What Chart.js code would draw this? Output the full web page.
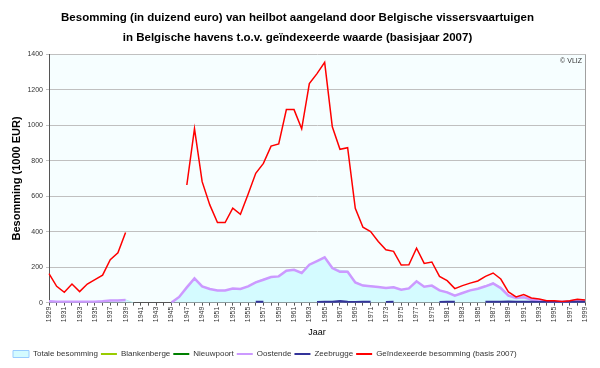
<!DOCTYPE html>
<html>
<head>
<meta charset="utf-8">
<title>Besomming heilbot</title>
<script src="https://cdn.jsdelivr.net/npm/chart.js@4.4.1/dist/chart.umd.min.js"></script>
<style>
  html, body { margin: 0; padding: 0; background: #fff; }
  #wrap { width: 600px; height: 368px; }
</style>
</head>
<body>
<div id="wrap"><canvas id="chart" width="600" height="368"></canvas></div>
<script>
'use strict';

// ─── Data ─────────────────────────────────────────────────────────────────────
const years = Array.from({ length: 71 }, (_, i) => String(1929 + i));

// Totale besomming (1000 EUR)
const totaal = [
  9, 6, 6, 6, 6, 6, 6, 9, 13, 13, 16,
  0, null, null, null, null,
  0, 32, 86, 137, 92, 77, 69, 69, 80, 77, 92, 117, 132, 144, 148,
  180, 185, 167, 214, 236, 258, 198, 182, 178, 116, 99, 95, 88, 82, 90,
  73, 80, 120, 90, 96, 71, 61, 42, 54, 69, 78, 95, 112, 86, 44,
  30, 33, 20, 13, 10, 7, 7, 10, 17, 14
];

const blankenberge = years.map(() => null);
const nieuwpoort = years.map(() => null);

const oostende = [
  8, 5, 5, 5, 5, 5, 5, 8, 12, 12, 15,
  null, null, null, null, null,
  0, 32, 86, 137, 92, 77, 69, 69, 80, 77, 92, 114, 129, 144, 148,
  180, 185, 167, 214, 234, 255, 195, 174, 174, 114, 96, 92, 88, 82, 87,
  73, 80, 120, 90, 96, 69, 58, 39, 54, 69, 78, 92, 108, 82, 39,
  26, 30, 17, 11, 7, 5, 5, 7, 13, 11
];

const zeebrugge = [
  null, null, null, null, null, null, null, null, null, null, null,
  null, null, null, null, null,
  null, null, null, null, null, null, null, null, null, null, null, 3, 3, null, null,
  null, null, null, null, 2, 3, 3, 8, 4, 2, 3, 3, null, 2, 3,
  null, null, null, null, null, 2, 3, 3, null, null, null, 3, 4, 4, 5,
  4, 3, 3, 2, 3, 2, 2, 3, 4, 3
];

// Geïndexeerde besomming (basis 2007)
const geindexeerd = [
  163, 92, 58, 105, 62, 105, 130, 155, 242, 281, 395,
  null, null, null, null, null, null, null,
  663, 980, 682, 551, 451, 451, 532, 498, 611, 729, 785, 882, 894,
  1088, 1088, 980, 1235, 1291, 1354, 991, 864, 873, 532, 425, 401, 345, 298, 289,
  212, 213, 307, 221, 229, 148, 124, 79, 96, 110, 122, 148, 167, 133, 60,
  32, 45, 26, 21, 11, 11, 7, 11, 19, 15
];

const yTicks = [0, 200, 400, 600, 800, 1000, 1200, 1400];

// ─── Plugins ──────────────────────────────────────────────────────────────────
const plotBackground = {
  id: 'plotBackground',
  beforeDraw(chart) {
    const { ctx, chartArea: a } = chart;
    ctx.save();
    ctx.fillStyle = '#f6feff';
    ctx.fillRect(a.left, a.top, a.right - a.left, a.bottom - a.top);
    ctx.restore();
  },
  afterDraw(chart) {
    const { ctx, chartArea: a } = chart;
    ctx.save();
    ctx.strokeStyle = '#a0a0a0';
    ctx.lineWidth = 1;
    ctx.beginPath();
    ctx.moveTo(a.right + 0.5, a.top);
    ctx.lineTo(a.right + 0.5, a.bottom);
    ctx.stroke();
    ctx.fillStyle = '#333';
    ctx.font = '7px "Liberation Sans", Arial, sans-serif';
    ctx.textAlign = 'right';
    ctx.textBaseline = 'top';
    ctx.fillText('© VLIZ', a.right - 3, a.top + 3);
    ctx.restore();
  },
};

// ─── Chart ────────────────────────────────────────────────────────────────────
const font = '"Liberation Sans", Arial, sans-serif';

new Chart(document.getElementById('chart'), {
  type: 'line',
  data: {
    labels: years,
    datasets: [
      {
        label: 'Totale besomming',
        data: totaal,
        borderColor: '#bfeff5',
        backgroundColor: '#d4fbff',
        borderWidth: 1,
        fill: 'origin',
        pointRadius: 0,
        order: 6,
      },
      { label: 'Blankenberge', data: blankenberge, borderColor: '#99cc00', borderWidth: 2, pointRadius: 0, order: 5 },
      { label: 'Nieuwpoort', data: nieuwpoort, borderColor: '#008000', borderWidth: 2, pointRadius: 0, order: 4 },
      { label: 'Oostende', data: oostende, borderColor: '#cc99ff', borderWidth: 2.5, pointRadius: 0, order: 3 },
      { label: 'Zeebrugge', data: zeebrugge, borderColor: '#333399', borderWidth: 2.5, pointRadius: 0, order: 2 },
      { label: 'Geïndexeerde besomming (basis 2007)', data: geindexeerd, borderColor: '#ff0000', borderWidth: 1.5, pointRadius: 0, order: 1 },
    ],
  },
  options: {
    responsive: false,
    animation: false,
    spanGaps: false,
    elements: { line: { tension: 0 } },
    layout: { padding: { left: 10, right: 15, top: 6, bottom: 0 } },
    plugins: {
      title: {
        display: true,
        text: [
          'Besomming (in duizend euro) van heilbot aangeland door Belgische vissersvaartuigen',
          'in Belgische havens t.o.v. geïndexeerde waarde (basisjaar 2007)',
        ],
        color: '#000',
        font: { family: font, size: 11.5, weight: 'bold', lineHeight: 1.75 },
        padding: { top: 2, bottom: 6 },
      },
      legend: {
        position: 'bottom',
        align: 'start',
        labels: {
          color: '#333',
          font: { family: font, size: 8 },
          usePointStyle: true,
          pointStyleWidth: 16,
          boxHeight: 7,
          padding: 3,
          generateLabels(chart) {
            return chart.data.datasets.map((ds, i) => ({
              text: ds.label,
              datasetIndex: i,
              fillStyle: ds.backgroundColor || ds.borderColor,
              strokeStyle: i === 0 ? '#99ccff' : ds.borderColor,
              lineWidth: i === 0 ? 1 : 2,
              pointStyle: i === 0 ? 'rect' : 'line',
              fontColor: '#333',
              hidden: false,
            }));
          },
        },
      },
      tooltip: { enabled: false },
    },
    scales: {
      x: {
        offset: false,
        grid: { display: true, drawOnChartArea: false, drawTicks: true, tickLength: 3, color: '#555' },
        border: { color: '#555' },
        ticks: {
          autoSkip: false,
          minRotation: 90,
          maxRotation: 90,
          color: '#333',
          font: { family: font, size: 7 },
          padding: 1,
          callback: (v, i) => (i % 2 === 0 ? years[i] : ''),
        },
        title: {
          display: true,
          text: 'Jaar',
          color: '#000',
          font: { family: font, size: 9 },
          padding: { top: 4, bottom: 9 },
        },
      },
      y: {
        min: 0,
        max: 1400,
        afterBuildTicks(scale) {
          scale.ticks = yTicks.map(v => ({ value: v }));
        },
        afterFit(scale) {
          scale.width = 39;
        },
        grid: { color: '#c0c0c0', lineWidth: 1, drawTicks: true, tickLength: 3 },
        border: { color: '#555' },
        ticks: {
          color: '#333',
          font: { family: font, size: 7 },
          padding: 3,
          callback: v => String(v),
        },
        title: {
          display: true,
          text: 'Besomming (1000 EUR)',
          color: '#000',
          font: { family: font, size: 11, weight: 'bold' },
          padding: { top: 0, bottom: 2 },
        },
      },
    },
  },
  plugins: [plotBackground],
});
</script>
</body>
</html>
